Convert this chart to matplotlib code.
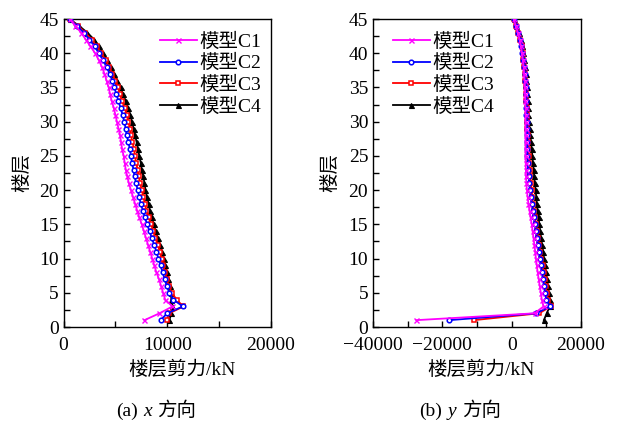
import matplotlib
matplotlib.use("Agg")
import matplotlib.pyplot as plt
from matplotlib.ticker import MultipleLocator, FuncFormatter
from matplotlib.offsetbox import TextArea, HPacker, AnchoredOffsetbox

plt.rcParams['font.family'] = ['Liberation Serif', 'Noto Sans CJK SC']
plt.rcParams['axes.unicode_minus'] = True

floors = list(range(1, 46))
labels = ['模型C1', '模型C2', '模型C3', '模型C4']

# storey shear, x direction (kN x 1000)
c1_x = [7.8, 9.25, 10.5, 9.8, 9.6, 9.4, 9.2, 8.95, 8.75, 8.55,
        8.35, 8.15, 7.95, 7.75, 7.55, 7.3, 7.1, 6.9, 6.7, 6.5,
        6.3, 6.15, 6.0, 5.9, 5.8, 5.65, 5.55, 5.45, 5.3, 5.15,
        5.0, 4.85, 4.65, 4.5, 4.35, 4.15, 3.95, 3.7, 3.4, 3.05,
        2.6, 2.15, 1.7, 1.15, 0.58]
c2_x = [9.35, 10.0, 11.5, 10.6, 10.2, 9.95, 9.75, 9.55, 9.35, 9.15,
        8.95, 8.75, 8.5, 8.3, 8.05, 7.85, 7.65, 7.45, 7.3, 7.15,
        7.0, 6.85, 6.75, 6.6, 6.5, 6.4, 6.25, 6.1, 6.0, 5.85,
        5.7, 5.5, 5.3, 5.1, 4.9, 4.7, 4.45, 4.15, 3.8, 3.4,
        3.0, 2.5, 1.95, 1.3, 0.58]
c3_x = [9.95, 10.2, 11.55, 10.9, 10.45, 10.15, 9.95, 9.8, 9.6, 9.45,
        9.3, 9.1, 8.85, 8.65, 8.45, 8.2, 8.0, 7.85, 7.7, 7.55,
        7.4, 7.25, 7.15, 7.0, 6.9, 6.8, 6.65, 6.5, 6.4, 6.25,
        6.1, 5.9, 5.65, 5.45, 5.25, 5.0, 4.7, 4.4, 4.05, 3.65,
        3.2, 2.7, 2.1, 1.4, 0.58]
c4_x = [10.2, 10.4, 10.5, 10.4, 10.35, 10.25, 10.1, 9.95, 9.8, 9.65,
        9.5, 9.3, 9.1, 8.9, 8.7, 8.55, 8.35, 8.2, 8.05, 7.9,
        7.8, 7.7, 7.55, 7.45, 7.3, 7.2, 7.05, 6.9, 6.75, 6.6,
        6.45, 6.25, 6.0, 5.75, 5.5, 5.2, 4.9, 4.55, 4.2, 3.8,
        3.4, 2.95, 2.3, 1.5, 0.58]

# storey shear, y direction (kN x 1000)
c1_y = [-27.5, 6.6, 9.2, 8.7, 8.4, 8.1, 7.8, 7.5, 7.25, 7.0,
        6.8, 6.55, 6.3, 6.05, 5.8, 5.45, 5.15, 4.85, 4.6, 4.4,
        4.25, 4.15, 4.1, 4.05, 4.0, 4.0, 4.0, 4.0, 4.0, 4.0,
        4.0, 4.0, 3.95, 3.9, 3.85, 3.75, 3.6, 3.45, 3.25, 3.0,
        2.7, 2.3, 1.8, 1.2, 0.58]
c2_y = [-18.0, 7.1, 11.0, 10.0, 9.6, 9.3, 9.0, 8.65, 8.35, 8.05,
        7.8, 7.5, 7.2, 6.95, 6.65, 6.35, 6.05, 5.75, 5.5, 5.25,
        5.05, 4.9, 4.75, 4.65, 4.55, 4.5, 4.45, 4.4, 4.35, 4.3,
        4.25, 4.2, 4.15, 4.1, 4.0, 3.9, 3.75, 3.55, 3.35, 3.1,
        2.8, 2.4, 1.9, 1.25, 0.58]
c3_y = [-10.9, 7.9, 11.3, 10.5, 10.1, 9.8, 9.5, 9.2, 8.9, 8.55,
        8.25, 7.95, 7.65, 7.35, 7.05, 6.75, 6.45, 6.2, 5.95, 5.75,
        5.55, 5.4, 5.25, 5.1, 4.95, 4.85, 4.75, 4.65, 4.55, 4.45,
        4.4, 4.35, 4.25, 4.15, 4.05, 3.95, 3.8, 3.6, 3.4, 3.15,
        2.85, 2.45, 1.95, 1.3, 0.58]
c4_y = [9.3, 10.1, 11.0, 11.0, 10.7, 10.45, 10.15, 9.9, 9.6, 9.35,
        9.1, 8.8, 8.5, 8.25, 8.0, 7.75, 7.5, 7.3, 7.1, 6.9,
        6.7, 6.5, 6.35, 6.15, 5.95, 5.8, 5.6, 5.4, 5.2, 5.0,
        4.85, 4.7, 4.6, 4.5, 4.4, 4.25, 4.1, 3.95, 3.7, 3.4,
        3.0, 2.6, 2.05, 1.35, 0.58]

styles = [
    dict(color='#FF00FF', marker='x', ms=3.6, mew=1.0),
    dict(color='#0000FF', marker='o', ms=3.3, mfc='white', mew=1.1),
    dict(color='#FF0000', marker='s', ms=3.1, mfc='white', mew=1.1),
    dict(color='#000000', marker='^', ms=3.6, mew=0.8),
]

FS = 14

fig = plt.figure(figsize=(6.18, 4.21), dpi=100)
ax1 = fig.add_axes([63.5 / 618, 94 / 421, 207.5 / 618, 308 / 421])
ax2 = fig.add_axes([373 / 618, 94 / 421, 208 / 618, 308 / 421])

fmt = FuncFormatter(lambda v, p: f"{int(round(v)):d}".replace('-', '\u2212'))


def draw(ax, series, xlim, xmajor, xminor, legend_loc, legend_anchor):
    handles = []
    for i in reversed(range(4)):
        vals = [v * 1000 for v in series[i]]
        h, = ax.plot(vals, floors, lw=1.3, zorder=3 + (4 - i), **styles[i])
        handles.append(h)
    handles = handles[::-1]
    ax.set_xlim(*xlim)
    ax.set_ylim(0, 45)
    ax.xaxis.set_major_locator(MultipleLocator(xmajor))
    ax.xaxis.set_minor_locator(MultipleLocator(xminor))
    ax.yaxis.set_major_locator(MultipleLocator(5))
    ax.yaxis.set_minor_locator(MultipleLocator(2.5))
    ax.xaxis.set_major_formatter(fmt)
    ax.tick_params(which='both', direction='in', length=4, width=1.0,
                   labelsize=FS, top=False, right=False)
    ax.tick_params(axis='x', which='major', pad=7.5)
    for s in ax.spines.values():
        s.set_linewidth(1.0)
    ax.set_ylabel('楼层', fontsize=FS)
    ax.set_xlabel('楼层剪力/kN', fontsize=FS, labelpad=2)
    ax.legend(handles, labels, loc=legend_loc, bbox_to_anchor=legend_anchor,
              frameon=False, fontsize=FS, handlelength=1.9,
              handletextpad=0.15, labelspacing=0.18, borderaxespad=0.3)


draw(ax1, [c1_x, c2_x, c3_x, c4_x], (0, 20000), 10000, 5000,
     'upper right', (1.02, 1.0))
draw(ax2, [c1_y, c2_y, c3_y, c4_y], (-40000, 20000), 20000, 10000,
     'upper left', (0.03, 1.0))

ax1.yaxis.set_label_coords(-0.157, 0.5)
ax2.yaxis.set_label_coords(-0.163, 0.5)
ax1.xaxis.set_label_coords(0.57, -0.11)
ax2.xaxis.set_label_coords(0.52, -0.11)


def caption(tag, var, xc):
    parts = [TextArea(tag, textprops=dict(fontsize=FS)),
             TextArea(var, textprops=dict(fontsize=FS, style='italic')),
             TextArea('方向', textprops=dict(fontsize=FS))]
    box = HPacker(children=parts, align='baseline', pad=0, sep=4)
    anchored = AnchoredOffsetbox(loc='center', child=box, pad=0, frameon=False,
                                 bbox_to_anchor=(xc / 618, 1 - 411 / 421),
                                 bbox_transform=fig.transFigure, borderpad=0)
    fig.add_artist(anchored)


caption('(a)', 'x', 156)
caption('(b)', 'y', 460)

fig.savefig('out.png', dpi=100)
